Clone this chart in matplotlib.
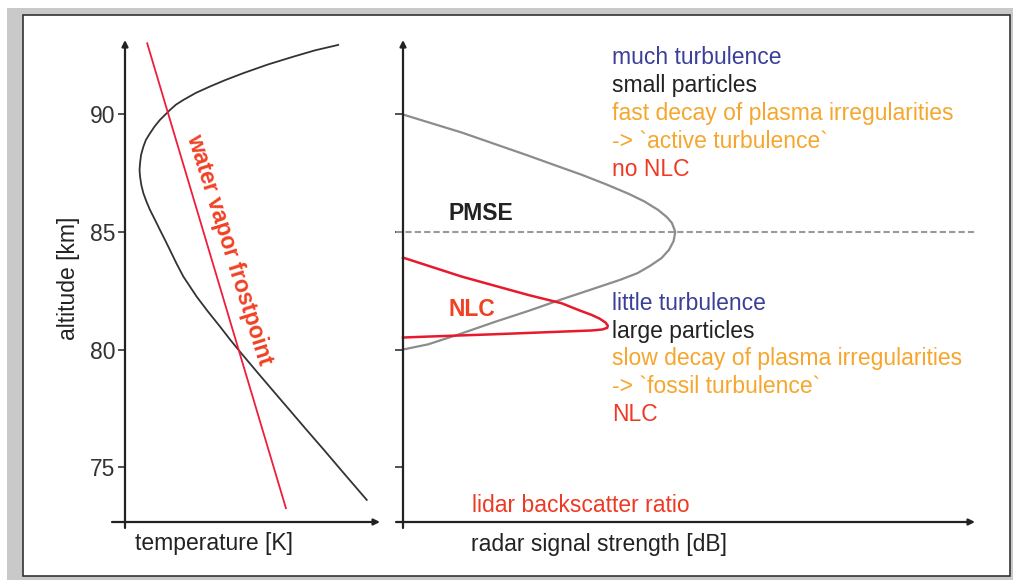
import matplotlib
matplotlib.use('Agg')
import matplotlib.pyplot as plt
from matplotlib.patches import Rectangle

plt.rcParams['font.family'] = ['Liberation Sans', 'DejaVu Sans']

# altitude axis [km]
alt_ticks = [75, 80, 85, 90]
alt_range = (72.66, 93.17)

# temperature profile (relative units, no scale on the axis)
temp_x = [83.6, 74.5, 66.0, 56.1, 46.4, 39.2, 33.3, 27.8, 22.9, 20.0, 17.6, 13.7, 11.6, 9.8,
          8.2, 7.2, 6.3, 5.9, 5.7, 5.9, 6.4, 7.2, 8.4, 9.8, 11.8, 13.7, 15.7, 17.6, 20.2,
          22.9, 28.1, 32.5, 37.3, 41.3, 45.6, 52.2, 58.1, 64.5, 71.2, 78.0, 86.4, 94.8]
temp_alt = [92.96, 92.73, 92.46, 92.13, 91.76, 91.46, 91.19, 90.92, 90.62, 90.42, 90.19, 89.77,
            89.49, 89.20, 88.92, 88.63, 88.28, 87.93, 87.64, 87.36, 87.00, 86.65, 86.30, 85.94,
            85.51, 85.09, 84.66, 84.24, 83.66, 83.10, 82.25, 81.62, 80.97, 80.41, 79.84, 78.99,
            78.24, 77.43, 76.58, 75.73, 74.66, 73.60]

# water vapour frost point
frost_x = [8.7, 63.1]
frost_alt = [93.03, 73.25]

# PMSE radar signal strength (relative)
pmse_db = [0, 10.3, 21.9, 26.7, 31.3, 35.5, 39.5, 42.2, 44.6, 46.1, 47.0, 47.4, 47.6,
           47.3, 46.5, 45.2, 43.2, 41.0, 37.9, 33.6, 27.8, 21.9, 16.0, 10.2, 4.4, 0]
pmse_alt = [90.0, 89.23, 88.25, 87.83, 87.43, 87.03, 86.62, 86.30, 85.94, 85.64, 85.39, 85.14, 85.0,
            84.61, 84.24, 83.89, 83.56, 83.25, 82.96, 82.61, 82.14, 81.64, 81.17, 80.68, 80.22, 80.0]
pmse_peak = 85

# NLC lidar backscatter ratio (relative)
nlc_ratio = [0, 10.3, 21.9, 27.7, 30.9, 33.0, 34.4, 35.4, 35.8, 35.7, 34.8, 33.0,
             27.7, 16.1, 4.4, 0]
nlc_alt = [83.91, 83.10, 82.32, 81.97, 81.66, 81.47, 81.31, 81.15, 81.02, 80.92, 80.85, 80.81,
           80.76, 80.65, 80.55, 80.51]

upper_notes = ['much turbulence', 'small particles', 'fast decay of plasma irregularities',
               "-> `active turbulence`", 'no NLC']
lower_notes = ['little turbulence', 'large particles', 'slow decay of plasma irregularities',
               "-> `fossil turbulence`", 'NLC']

BLUE = '#3b3f98'
ORANGE = '#f6a62c'
RED = '#ee3a24'
note_colors = [BLUE, '#222222', ORANGE, ORANGE, RED]

W, H = 1013, 580
fig = plt.figure(figsize=(W / 100, H / 100), dpi=100)


def fx(px):
    return px / W


def fy(py):
    return 1 - py / H


# window frame
fig.patches.append(Rectangle((fx(7), fy(580)), (W - 7) / W, (580 - 8) / H, transform=fig.transFigure,
                             facecolor='#c9c9c9', edgecolor='none', zorder=-10))
fig.patches.append(Rectangle((fx(23), fy(576)), (1010 - 23) / W, (576 - 15) / H, transform=fig.transFigure,
                             facecolor='white', edgecolor='#333333', lw=1.2, zorder=-9))

ax1 = fig.add_axes([fx(125), fy(522), (380 - 125) / W, (522 - 40) / H])
ax2 = fig.add_axes([fx(403), fy(522), (975 - 403) / W, (522 - 40) / H])

arrow = dict(arrowstyle='-|>', color='#222222', lw=1.6, mutation_scale=9, shrinkA=0, shrinkB=0)
for ax, xstart in ((ax1, -0.051), (ax2, -0.0122)):
    ax.set_xlim(0, 100)
    ax.set_ylim(*alt_range)
    ax.patch.set_alpha(0)
    for s in ax.spines.values():
        s.set_visible(False)
    ax.set_xticks([])
    ax.set_yticks(alt_ticks)
    ax.tick_params(axis='y', length=5, width=1.2, color='#333333', labelsize=16.5,
                   labelcolor='#333333', pad=2)
    ax.annotate('', xy=(0, 1), xytext=(0, -0.0124), xycoords='axes fraction',
                arrowprops=arrow, annotation_clip=False)
    ax.annotate('', xy=(1, 0), xytext=(xstart, 0), xycoords='axes fraction',
                arrowprops=arrow, annotation_clip=False)

ax2.tick_params(axis='y', labelleft=False, length=6)

# left panel: temperature and frost point
ax1.plot(temp_x, temp_alt, color='#333333', lw=1.3, clip_on=False)
ax1.plot(frost_x, frost_alt, color='#ee1d3c', lw=1.3, clip_on=False)
ax1.text(40.8, 84.24, 'water vapor frostpoint', rotation=-72.5, rotation_mode='anchor',
         ha='center', va='center', color='#f04124', fontweight='bold', fontsize=16.5)

# right panel: PMSE and NLC
ax2.hlines(pmse_peak, -1.2, 100, colors='#999999', lw=1.5, linestyles=(0, (3, 1.5)), clip_on=False)
ax2.plot(pmse_db, pmse_alt, color='#8c8c8c', lw=1.6, clip_on=False)
ax2.plot(nlc_ratio, nlc_alt, color='#e8192c', lw=1.8, clip_on=False)

ax2.text(7.9, 85.51, 'PMSE', color='#222222', fontweight='bold', fontsize=16.5, va='baseline')
ax2.text(7.9, 81.43, 'NLC', color='#f04124', fontweight='bold', fontsize=16.5, va='baseline')
ax2.text(12.1, 73.10, 'lidar backscatter ratio', color=RED, fontsize=16.5, va='baseline')

step = 1.19
for i, (txt, c) in enumerate(zip(upper_notes, note_colors)):
    ax2.text(36.5, 92.15 - i * step, txt, color=c, fontsize=16.5, va='baseline')
for i, (txt, c) in enumerate(zip(lower_notes, note_colors)):
    ax2.text(36.5, 81.70 - i * step, txt, color=c, fontsize=16.5, va='baseline')

# axis labels
fig.text(fx(69), fy(278), 'altitude [km]', rotation=90, ha='center', va='center',
         fontsize=16.5, color='#222222')
fig.text(fx(135), fy(550), 'temperature [K]', fontsize=16.5, color='#222222', va='baseline')
fig.text(fx(471), fy(551), 'radar signal strength [dB]', fontsize=16.5, color='#222222', va='baseline')

fig.savefig('out.png', dpi=100)
